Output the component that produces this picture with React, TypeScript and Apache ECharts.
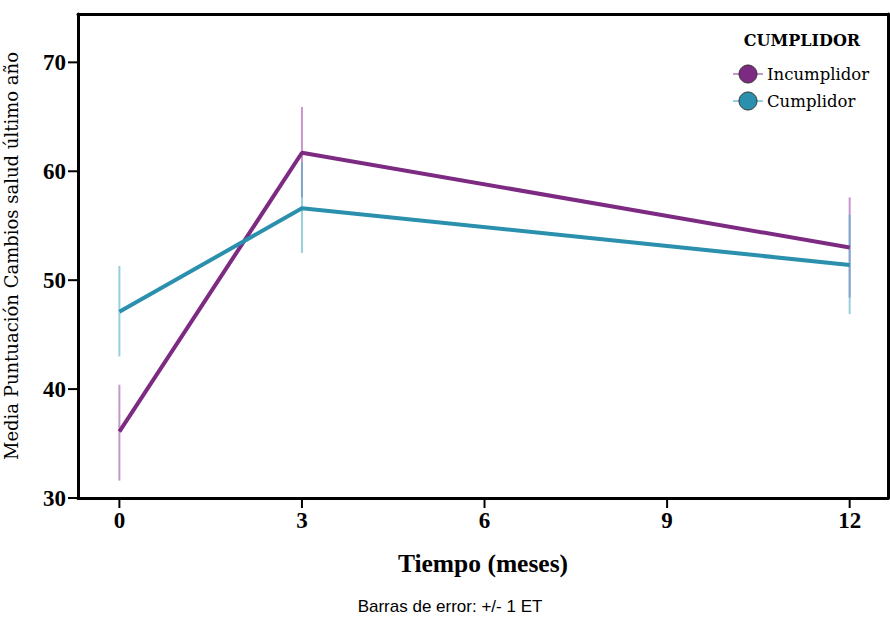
import React, { useEffect, useRef } from "react";
import * as echarts from "echarts";

const months = [0, 3, 12];
const incMean = [36.1, 61.7, 53.0];
const incLow = [31.6, 57.6, 48.4];
const incHigh = [40.4, 65.9, 57.6];
const cumMean = [47.1, 56.6, 51.4];
const cumLow = [43.0, 52.5, 46.9];
const cumHigh = [51.3, 60.8, 56.0];
const xTicks = [0, 3, 6, 9, 12];
const yTicks = [30, 40, 50, 60, 70];

const X_MIN = -0.68;
const X_MAX = 12.63;
const Y_MIN = 30;
const Y_MAX = 74.44;

const PURPLE = "#7d2a83";
const CYAN = "#2a90ad";
const PURPLE_BAR = "rgba(160,80,170,0.6)";
const CYAN_BAR = "rgba(80,175,200,0.6)";

function errSeries(name: string, lo: number[], hi: number[], color: string) {
  return {
    type: "custom",
    name,
    silent: true,
    z: 1,
    data: months.map((m, i) => [m, lo[i], hi[i]]),
    renderItem: (params: any, api: any) => {
      const a = api.coord([api.value(0), api.value(1)]);
      const b = api.coord([api.value(0), api.value(2)]);
      return {
        type: "line",
        shape: { x1: a[0], y1: a[1], x2: b[0], y2: b[1] },
        style: { stroke: color, lineWidth: 2 },
      };
    },
  };
}

export default function App() {
  const ref = useRef<HTMLDivElement>(null);
  useEffect(() => {
    const chart = echarts.init(ref.current!, null, { renderer: "svg" });
    const serif = "Liberation Serif";
    const frameAxis = { show: true, onZero: false, lineStyle: { color: "#000", width: 3 } };
    const staticGraphics: any[] = [
      {
        type: "text",
        x: 802,
        y: 40,
        style: {
          text: "CUMPLIDOR",
          fontFamily: "DejaVu Serif",
          fontWeight: "bold",
          fontSize: 16,
          fill: "#000",
          align: "center",
          verticalAlign: "middle",
        },
      },
      { type: "line", shape: { x1: 733, y1: 74, x2: 763, y2: 74 }, style: { stroke: PURPLE_BAR, lineWidth: 2 } },
      { type: "circle", shape: { cx: 748, cy: 74, r: 9 }, style: { fill: PURPLE, stroke: "#333", lineWidth: 1 } },
      {
        type: "text",
        x: 767,
        y: 74,
        style: { text: "Incumplidor", fontFamily: "DejaVu Serif", fontSize: 16.5, fill: "#000", verticalAlign: "middle" },
      },
      { type: "line", shape: { x1: 733, y1: 101, x2: 763, y2: 101 }, style: { stroke: CYAN_BAR, lineWidth: 2 } },
      { type: "circle", shape: { cx: 748, cy: 101, r: 9 }, style: { fill: CYAN, stroke: "#333", lineWidth: 1 } },
      {
        type: "text",
        x: 767,
        y: 101,
        style: { text: "Cumplidor", fontFamily: "DejaVu Serif", fontSize: 16.5, fill: "#000", verticalAlign: "middle" },
      },
      {
        type: "text",
        x: 450,
        y: 606,
        style: {
          text: "Barras de error: +/- 1 ET",
          fontFamily: "Liberation Sans",
          fontSize: 17,
          fill: "#000",
          align: "center",
          verticalAlign: "middle",
        },
      },
    ];
    chart.setOption({
      animation: false,
      backgroundColor: "#fff",
      grid: {
        left: 78,
        right: 2,
        top: 14,
        bottom: 121,
        containLabel: false,
        outerBoundsMode: "none",
        show: false,
      },
      xAxis: [
        {
          type: "value",
          position: "bottom",
          min: X_MIN,
          max: X_MAX,
          name: "Tiempo (meses)",
          nameLocation: "middle",
          nameGap: 52,
          nameTextStyle: { fontFamily: serif, fontWeight: "bold", fontSize: 25.5, color: "#000" },
          axisLine: frameAxis,
          splitLine: { show: false },
          axisTick: { show: false },
          axisLabel: {
            customValues: xTicks,
            fontFamily: serif,
            fontWeight: "bold",
            fontSize: 23,
            color: "#000",
            margin: 11,
          },
        },
        {
          type: "value",
          position: "top",
          min: X_MIN,
          max: X_MAX,
          axisLine: frameAxis,
          axisTick: { show: false },
          axisLabel: { show: false },
          splitLine: { show: false },
        },
      ],
      yAxis: [
        {
          type: "value",
          position: "left",
          min: Y_MIN,
          max: Y_MAX,
          name: "Media Puntuación Cambios salud último año",
          nameLocation: "middle",
          nameGap: 58,
          nameTextStyle: { fontFamily: "DejaVu Serif", fontSize: 18, color: "#000" },
          axisLine: frameAxis,
          splitLine: { show: false },
          axisTick: { show: false },
          axisLabel: {
            customValues: yTicks,
            fontFamily: serif,
            fontWeight: "bold",
            fontSize: 23,
            color: "#000",
            margin: 12,
          },
        },
        {
          type: "value",
          position: "right",
          min: Y_MIN,
          max: Y_MAX,
          axisLine: frameAxis,
          axisTick: { show: false },
          axisLabel: { show: false },
          splitLine: { show: false },
        },
      ],
      series: [
        errSeries("incErr", incLow, incHigh, PURPLE_BAR),
        errSeries("cumErr", cumLow, cumHigh, CYAN_BAR),
        {
          type: "line",
          name: "Incumplidor",
          data: months.map((m, i) => [m, incMean[i]]),
          showSymbol: false,
          symbol: "none",
          lineStyle: { color: PURPLE, width: 4 },
          z: 3,
        },
        {
          type: "line",
          name: "Cumplidor",
          data: months.map((m, i) => [m, cumMean[i]]),
          showSymbol: false,
          symbol: "none",
          lineStyle: { color: CYAN, width: 4 },
          z: 3,
        },
      ],
      graphic: staticGraphics,
    });

    const tickGraphics: any[] = [];
    try {
      const leftX = chart.convertToPixel({ xAxisIndex: 0 } as any, X_MIN) as any;
      const bottomY = chart.convertToPixel({ yAxisIndex: 0 } as any, Y_MIN) as any;
      yTicks.forEach((v) => {
        const py = chart.convertToPixel({ yAxisIndex: 0 } as any, v) as any;
        if (isFinite(leftX) && isFinite(py)) {
          tickGraphics.push({
            type: "line",
            z: 100,
            shape: { x1: leftX - 10, y1: py, x2: leftX, y2: py },
            style: { stroke: "#000", lineWidth: 2 },
          });
        }
      });
      xTicks.forEach((v) => {
        const px = chart.convertToPixel({ xAxisIndex: 0 } as any, v) as any;
        if (isFinite(px) && isFinite(bottomY)) {
          tickGraphics.push({
            type: "line",
            z: 100,
            shape: { x1: px, y1: bottomY, x2: px, y2: bottomY + 10 },
            style: { stroke: "#000", lineWidth: 2 },
          });
        }
      });
      if (tickGraphics.length) {
        chart.setOption({ graphic: [...staticGraphics, ...tickGraphics] });
      }
    } catch (e) {
      // keep chart without ticks if conversion fails
    }
    return () => chart.dispose();
  }, []);
  return <div ref={ref} style={{ width: 890, height: 619, position: "absolute", left: 0, top: 0 }} />;
}
